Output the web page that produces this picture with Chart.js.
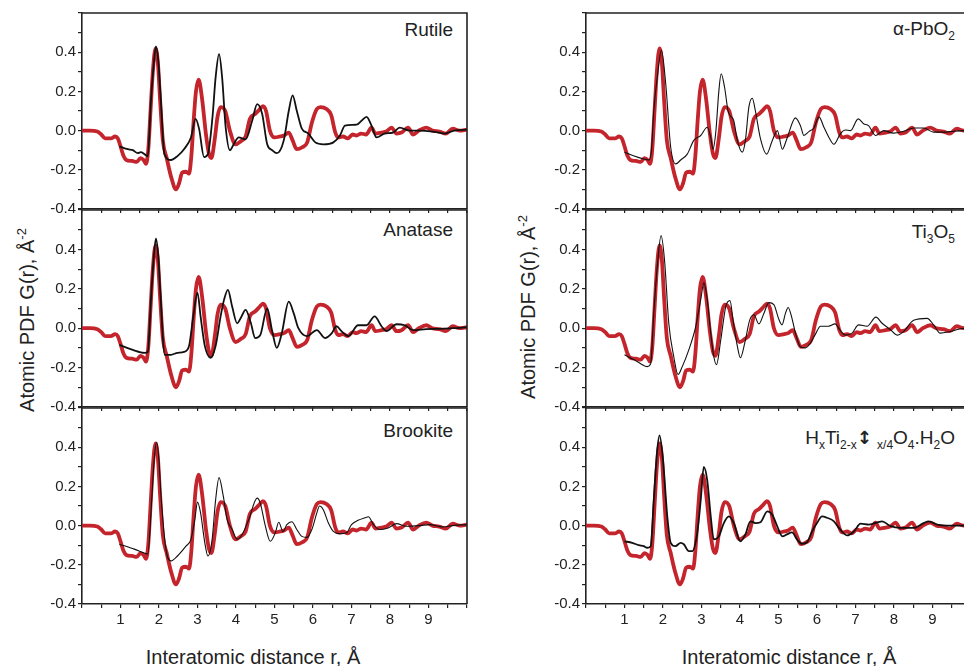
<!DOCTYPE html>
<html>
<head>
<meta charset="utf-8">
<script src="https://cdn.jsdelivr.net/npm/chart.js@4/dist/chart.umd.min.js"></script>
<style>
  html, body { margin: 0; padding: 0; background: #fff; overflow: hidden; }
  body { width: 964px; height: 666px; position: relative; font-family: "Liberation Sans", Arial, sans-serif; color: #222; }
  canvas { position: absolute; }
  .lbl { position: absolute; font-family: "Liberation Sans", Arial, sans-serif; font-size: 19px; line-height: 1; white-space: nowrap; text-align: right; }
  .lbl sub { font-size: 12px; vertical-align: -5px; line-height: 0; }
  .lbl b { font-family: "DejaVu Sans", sans-serif; font-size: 18px; }
  .xt { position: absolute; font-size: 20px; line-height: 1; white-space: nowrap; transform: translate(-50%, -50%); }
  .yt { position: absolute; font-size: 20px; line-height: 1; white-space: nowrap; transform: translate(-50%, -50%) rotate(-90deg); }
  .yt sup { font-size: 13px; vertical-align: 8px; line-height: 0; }
</style>
</head>
<body>

<div class="lbl" style="right:511px; top:20px;">Rutile</div>
<div class="lbl" style="right:511px; top:220px;">Anatase</div>
<div class="lbl" style="right:511px; top:421px;">Brookite</div>
<div class="lbl" style="right:9px; top:19px;">&alpha;-PbO<sub>2</sub></div>
<div class="lbl" style="right:9px; top:222px;">Ti<sub>3</sub>O<sub>5</sub></div>
<div class="lbl" style="right:9px; top:428px;">H<sub>x</sub>Ti<sub>2-x</sub><b>&#8597;</b>&nbsp;<sub>x/4</sub>O<sub>4</sub>.H<sub>2</sub>O</div>

<div class="xt" style="left:253px; top:657px;">Interatomic distance r, &Aring;</div>
<div class="xt" style="left:789px; top:657px;">Interatomic distance r, &Aring;</div>
<div class="yt" style="left:27px; top:320px;">Atomic PDF G(r), &Aring;<sup>-2</sup></div>
<div class="yt" style="left:528px; top:307px;">Atomic PDF G(r), &Aring;<sup>-2</sup></div>

<canvas id="c1"></canvas>
<canvas id="c2"></canvas>
<canvas id="c3"></canvas>
<canvas id="c4"></canvas>
<canvas id="c5"></canvas>
<canvas id="c6"></canvas>

<script>
// experimental PDF (red dots), same in every panel
const rExp = [0, 0.2, 0.4, 0.5, 0.6, 0.75, 0.86, 0.93, 1.0, 1.08, 1.15, 1.3, 1.42, 1.52, 1.6, 1.66, 1.72, 1.78, 1.84, 1.91, 1.97, 2.03, 2.1, 2.2, 2.32, 2.44, 2.52, 2.6, 2.7, 2.78, 2.84, 2.9, 2.96, 3.03, 3.12, 3.22, 3.3, 3.36, 3.45, 3.52, 3.6, 3.72, 3.84, 3.99, 4.12, 4.25, 4.36, 4.5, 4.62, 4.7, 4.78, 4.88, 5.0, 5.15, 5.25, 5.37, 5.47, 5.58, 5.72, 5.85, 5.97, 6.1, 6.2, 6.35, 6.47, 6.58, 6.66, 6.78, 6.9, 7.03, 7.13, 7.25, 7.38, 7.52, 7.62, 7.78, 7.9, 8.04, 8.17, 8.3, 8.47, 8.6, 8.75, 8.94, 9.1, 9.28, 9.45, 9.63, 9.8, 10.0];
const gExp = [0, 0, -0.005, -0.02, -0.04, -0.04, -0.03, -0.04, -0.08, -0.13, -0.15, -0.155, -0.16, -0.14, -0.15, -0.17, -0.1, 0.1, 0.3, 0.42, 0.35, 0.15, -0.05, -0.14, -0.24, -0.3, -0.27, -0.215, -0.21, -0.22, -0.13, 0.05, 0.2, 0.26, 0.16, -0.02, -0.12, -0.14, -0.04, 0.07, 0.12, 0.1, 0.0, -0.07, -0.055, -0.03, 0.06, 0.085, 0.11, 0.125, 0.1, 0.0, -0.035, -0.03, -0.025, -0.01, -0.05, -0.095, -0.085, -0.06, 0.04, 0.11, 0.12, 0.11, 0.08, -0.01, -0.035, -0.03, -0.04, -0.02, -0.025, -0.015, -0.02, 0.015, -0.015, -0.01, -0.005, 0.015, -0.015, -0.01, 0.015, -0.02, 0.0, 0.015, 0.0, -0.005, -0.015, 0.01, 0.0, 0.005];

// model PDFs (black lines)
const rRutile = [0.97, 1.19, 1.32, 1.45, 1.53, 1.62, 1.71, 1.79, 1.86, 1.92, 1.98, 2.05, 2.14, 2.31, 2.48, 2.65, 2.83, 2.95, 3.04, 3.17, 3.27, 3.39, 3.47, 3.56, 3.64, 3.73, 3.84, 3.94, 4.07, 4.25, 4.42, 4.55, 4.68, 4.81, 4.94, 5.06, 5.24, 5.37, 5.47, 5.58, 5.71, 5.88, 6.06, 6.27, 6.53, 6.7, 6.83, 7.13, 7.26, 7.39, 7.52, 7.65, 7.86, 8.08, 8.25, 8.51, 8.77, 9.11, 9.41, 9.67, 10.0];
const gRutile = [-0.08, -0.095, -0.1, -0.115, -0.11, -0.12, -0.13, 0.15, 0.33, 0.43, 0.36, 0.15, -0.12, -0.15, -0.13, -0.095, -0.035, 0.06, 0.01, -0.135, -0.12, 0.07, 0.27, 0.39, 0.27, 0.02, -0.1, -0.07, -0.035, -0.045, 0.05, 0.135, 0.085, -0.07, -0.1, -0.115, -0.05, 0.1, 0.18, 0.1, 0.01, -0.015, -0.06, -0.07, -0.06, -0.025, 0.025, 0.03, 0.05, 0.07, 0.025, -0.035, -0.015, -0.01, 0.015, 0.0, 0.0, -0.005, -0.015, 0.0, 0.005];

const rAnatase = [0.97, 1.32, 1.62, 1.71, 1.79, 1.86, 1.92, 1.98, 2.03, 2.15, 2.31, 2.48, 2.65, 2.78, 2.89, 3.0, 3.08, 3.19, 3.34, 3.47, 3.6, 3.69, 3.79, 3.9, 4.03, 4.12, 4.25, 4.38, 4.5, 4.63, 4.81, 4.94, 5.06, 5.19, 5.37, 5.5, 5.62, 5.84, 6.1, 6.31, 6.49, 6.61, 6.74, 6.92, 7.17, 7.39, 7.6, 7.78, 7.91, 8.17, 8.38, 8.6, 8.94, 9.28, 9.63, 10.0];
const gAnatase = [-0.085, -0.11, -0.125, -0.12, 0.14, 0.35, 0.455, 0.37, 0.2, -0.135, -0.135, -0.125, -0.12, -0.09, 0.06, 0.18, 0.06, -0.09, -0.15, -0.09, 0.06, 0.145, 0.195, 0.11, 0.025, 0.05, 0.093, 0.03, -0.05, -0.035, 0.1, -0.015, -0.1, -0.025, 0.135, 0.075, 0.0, -0.04, -0.01, -0.05, -0.025, 0.01, -0.015, -0.04, 0.015, 0.015, 0.06, 0.01, -0.015, 0.02, 0.015, -0.01, -0.005, -0.003, 0.0, 0.005];

const rBrookite = [0.97, 1.36, 1.62, 1.71, 1.81, 1.88, 1.94, 2.0, 2.05, 2.18, 2.31, 2.48, 2.7, 2.83, 2.93, 3.0, 3.08, 3.19, 3.27, 3.38, 3.47, 3.56, 3.67, 3.77, 3.9, 4.03, 4.16, 4.33, 4.55, 4.63, 4.76, 4.89, 5.02, 5.11, 5.22, 5.32, 5.45, 5.58, 5.71, 5.84, 5.97, 6.1, 6.17, 6.27, 6.4, 6.53, 6.7, 6.87, 7.0, 7.17, 7.35, 7.44, 7.57, 7.73, 7.95, 8.17, 8.42, 8.77, 9.03, 9.37, 9.63, 10.0];
const gBrookite = [-0.095, -0.12, -0.14, -0.145, 0.13, 0.35, 0.425, 0.33, 0.16, -0.12, -0.18, -0.155, -0.105, -0.07, 0.03, 0.12, 0.065, -0.088, -0.155, -0.07, 0.13, 0.245, 0.15, 0.03, -0.02, -0.07, -0.045, 0.03, 0.14, 0.115, 0.0, -0.08, -0.037, 0.017, -0.03, 0.005, 0.02, -0.02, -0.055, -0.06, -0.02, 0.065, 0.1, 0.08, 0.013, -0.03, -0.042, -0.037, 0.005, 0.027, 0.04, 0.045, 0.005, -0.02, -0.012, 0.01, -0.003, 0.0, 0.005, -0.007, 0.0, 0.005];

const rPbO2 = [1.0, 1.25, 1.5, 1.63, 1.7, 1.76, 1.85, 1.96, 2.07, 2.2, 2.33, 2.46, 2.63, 2.8, 2.98, 3.15, 3.24, 3.3, 3.37, 3.45, 3.51, 3.6, 3.69, 3.75, 3.84, 3.93, 4.06, 4.14, 4.23, 4.32, 4.4, 4.53, 4.69, 4.84, 4.97, 5.1, 5.22, 5.44, 5.57, 5.66, 5.79, 5.92, 6.05, 6.18, 6.31, 6.44, 6.61, 6.74, 6.87, 7.07, 7.21, 7.34, 7.52, 7.73, 7.99, 8.25, 8.51, 8.77, 9.03, 9.29, 9.55, 9.83, 10.0];
const gPbO2 = [-0.11, -0.13, -0.145, -0.15, -0.1, 0.1, 0.27, 0.41, 0.24, -0.085, -0.17, -0.15, -0.12, -0.05, -0.025, 0.017, -0.035, -0.095, -0.01, 0.2, 0.29, 0.22, 0.1, 0.075, 0.05, -0.05, -0.11, -0.05, 0.12, 0.165, 0.1, -0.04, -0.12, -0.05, 0.0, -0.095, -0.04, 0.065, 0.025, -0.025, -0.005, 0.013, 0.07, 0.017, -0.035, -0.07, -0.015, 0.003, 0.0, 0.06, 0.035, 0.025, -0.025, 0.0, -0.013, -0.003, 0.013, 0.013, -0.008, -0.008, -0.003, 0.0, 0.0];

const rTi3O5 = [1.0, 1.25, 1.42, 1.59, 1.68, 1.76, 1.85, 1.95, 2.04, 2.15, 2.28, 2.39, 2.5, 2.67, 2.84, 2.98, 3.06, 3.15, 3.24, 3.32, 3.39, 3.5, 3.63, 3.74, 3.82, 3.93, 4.01, 4.14, 4.25, 4.36, 4.49, 4.62, 4.75, 4.88, 5.0, 5.09, 5.18, 5.25, 5.35, 5.44, 5.57, 5.7, 5.83, 5.96, 6.09, 6.3, 6.47, 6.6, 6.74, 6.91, 7.08, 7.3, 7.53, 7.69, 7.91, 8.08, 8.25, 8.51, 8.86, 9.03, 9.2, 9.46, 9.83, 10.0];
const gTi3O5 = [-0.135, -0.16, -0.18, -0.195, -0.18, 0.075, 0.31, 0.47, 0.345, 0.025, -0.145, -0.235, -0.195, -0.11, 0.0, 0.145, 0.23, 0.145, -0.025, -0.145, -0.185, -0.06, 0.11, 0.14, 0.04, -0.09, -0.15, -0.06, 0.04, 0.068, 0.022, 0.075, 0.13, 0.12, 0.05, 0.017, 0.075, 0.105, 0.05, -0.025, -0.095, -0.1, -0.075, -0.03, 0.01, 0.01, 0.022, -0.01, -0.035, -0.025, 0.017, 0.01, 0.056, 0.025, -0.008, -0.035, -0.017, 0.04, 0.05, 0.017, -0.025, -0.017, 0.0, 0.0];

const rHTi = [1.0, 1.2, 1.37, 1.5, 1.59, 1.68, 1.76, 1.85, 1.91, 2.0, 2.11, 2.2, 2.32, 2.46, 2.54, 2.67, 2.76, 2.89, 2.98, 3.06, 3.15, 3.24, 3.32, 3.45, 3.58, 3.71, 3.84, 4.01, 4.14, 4.27, 4.4, 4.53, 4.71, 4.84, 4.96, 5.1, 5.22, 5.35, 5.48, 5.61, 5.74, 5.87, 6.0, 6.13, 6.26, 6.44, 6.57, 6.78, 6.96, 7.13, 7.35, 7.69, 7.91, 8.17, 8.51, 8.77, 8.9, 9.12, 9.38, 9.83, 10.0];
const gHTi = [-0.08, -0.088, -0.1, -0.105, -0.113, -0.105, 0.13, 0.385, 0.46, 0.335, 0.05, -0.088, -0.105, -0.088, -0.095, -0.13, -0.13, -0.037, 0.13, 0.3, 0.23, 0.047, -0.07, -0.055, 0.013, 0.047, 0.013, -0.08, -0.045, 0.022, 0.013, 0.017, 0.073, 0.055, 0.0, -0.055, -0.045, -0.035, -0.07, -0.093, -0.085, -0.03, 0.013, 0.047, 0.04, 0.022, -0.012, -0.05, -0.03, 0.01, 0.005, 0.022, -0.003, -0.012, -0.012, 0.013, 0.022, 0.005, 0.0, 0.0, 0.0];

const yLabels = ['-0.4', '-0.2', '0.0', '0.2', '0.4'];
const xLabels = ['1', '2', '3', '4', '5', '6', '7', '8', '9'];

const RED = '#c4242b';
const INK = '#222';

function toPts(xs, ys) {
    return xs.map((x, i) => ({ x: x, y: ys[i] }));
}

// top and right edges of each panel box
const frame = {
    id: 'frame',
    afterDraw(chart) {
        const a = chart.chartArea, ctx = chart.ctx;
        ctx.save();
        ctx.strokeStyle = INK;
        ctx.lineWidth = 1.6;
        ctx.beginPath();
        ctx.moveTo(a.left, a.top);
        ctx.lineTo(a.right, a.top);
        ctx.lineTo(a.right, a.bottom);
        ctx.stroke();
        ctx.restore();
    }
};

const rows = [[12, 209], [209, 407], [407, 604]];
const panels = [
    { id: 'c1', col: 0, row: 0, r: rRutile, g: gRutile, w: 1.8 },
    { id: 'c2', col: 0, row: 1, r: rAnatase, g: gAnatase, w: 1.8 },
    { id: 'c3', col: 0, row: 2, r: rBrookite, g: gBrookite, w: 1.1 },
    { id: 'c4', col: 1, row: 0, r: rPbO2, g: gPbO2, w: 1.1 },
    { id: 'c5', col: 1, row: 1, r: rTi3O5, g: gTi3O5, w: 1.1 },
    { id: 'c6', col: 1, row: 2, r: rHTi, g: gHTi, w: 1.8 }
];

const Y_W = 60, X_H = 40, TOP_PAD = 10, RIGHT_PAD = 6;

panels.forEach(p => {
    const canvas = document.getElementById(p.id);
    const [top, bottom] = rows[p.row];
    const areaLeft = p.col === 0 ? 82 : 586;
    canvas.width = Y_W + 385 + RIGHT_PAD;
    canvas.height = TOP_PAD + (bottom - top) + X_H;
    canvas.style.left = (areaLeft - Y_W) + 'px';
    canvas.style.top = (top - TOP_PAD) + 'px';
    const showX = p.row === 2;

    new Chart(canvas, {
        type: 'line',
        data: {
            datasets: [
                {
                    data: toPts(p.r, p.g),
                    borderColor: '#111',
                    borderWidth: p.w,
                    pointRadius: 0,
                    cubicInterpolationMode: 'monotone'
                },
                {
                    data: toPts(rExp, gExp),
                    borderColor: RED,
                    borderWidth: 3.8,
                    pointRadius: 0,
                    cubicInterpolationMode: 'monotone'
                }
            ]
        },
        options: {
            responsive: false,
            devicePixelRatio: 1,
            animation: false,
            parsing: false,
            layout: { autoPadding: false, padding: { top: TOP_PAD, right: RIGHT_PAD, left: 0, bottom: 0 } },
            plugins: { legend: { display: false }, tooltip: { enabled: false } },
            scales: {
                x: {
                    type: 'linear',
                    min: 0, max: 10,
                    afterFit: s => { s.height = X_H; },
                    border: { display: true, color: INK, width: 1.6 },
                    grid: { drawOnChartArea: false, drawTicks: true, tickLength: 4, color: INK, lineWidth: 1.2 },
                    ticks: {
                        stepSize: 0.5,
                        autoSkip: false,
                        maxRotation: 0,
                        padding: 3,
                        color: INK,
                        font: { family: 'Liberation Sans', size: 15 },
                        callback: v => {
                            if (!showX) return '';
                            const k = Math.round(v * 2);
                            return k % 2 === 0 ? (xLabels.includes(String(k / 2)) ? String(k / 2) : '') : '';
                        }
                    }
                },
                y: {
                    min: -0.4, max: 0.6,
                    afterFit: s => { s.width = Y_W; },
                    border: { display: true, color: INK, width: 1.6 },
                    grid: { drawOnChartArea: false, drawTicks: true, tickLength: 4, color: INK, lineWidth: 1.2 },
                    ticks: {
                        stepSize: 0.1,
                        autoSkip: false,
                        padding: 2,
                        color: INK,
                        font: { family: 'Liberation Sans', size: 15 },
                        callback: v => {
                            const s = (Math.round(v * 10) / 10).toFixed(1);
                            return yLabels.includes(s) ? s : '';
                        }
                    }
                }
            }
        },
        plugins: [frame]
    });
});
</script>
</body>
</html>
